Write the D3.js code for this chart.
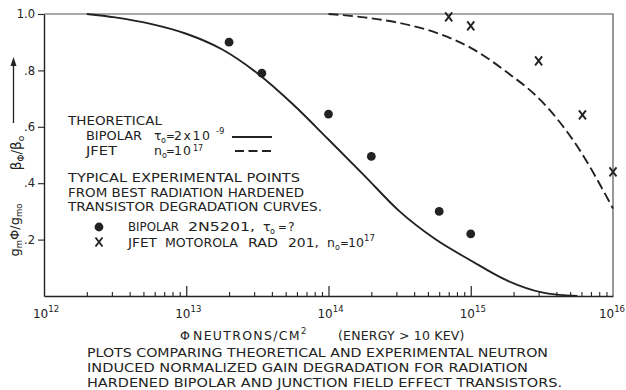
<!DOCTYPE html>
<html><head><meta charset="utf-8">
<script src="https://cdn.jsdelivr.net/npm/d3@7"></script>
<style>
body{margin:0;background:#fff}
svg{display:block}
text{font-family:"DejaVu Sans",sans-serif;fill:#222}
</style>
</head><body>
<svg id="c" width="626" height="390"></svg>
<script>
// ---- data ----
const xMajor = [1e12, 1e13, 1e14, 1e15, 1e16];
const xMajorExp = ["12", "13", "14", "15", "16"];
const yTicks = [0.2, 0.4, 0.6, 0.8, 1.0];
const yTickLabels = [".2", ".4", ".6", ".8", "1.0"];

// theoretical bipolar curve (tau0 = 2e-9)
const bipolarCurveX = [2.0e12, 3.16e12, 5.62e12, 1e13, 1.78e13, 3.16e13, 5.62e13, 1e14, 1.78e14, 3.16e14, 5.62e14, 1e15, 1.78e15, 3.16e15, 5.62e15];
const bipolarCurveY = [1.0, 0.988, 0.965, 0.93, 0.875, 0.79, 0.68, 0.555, 0.428, 0.30, 0.202, 0.126, 0.056, 0.013, 0.0];

// theoretical JFET curve (n0 = 1e17)
const jfetCurveX = [1e14, 1.78e14, 3.16e14, 5.62e14, 1e15, 1.78e15, 3.16e15, 5.62e15, 1e16];
const jfetCurveY = [1.0, 0.988, 0.968, 0.935, 0.88, 0.795, 0.69, 0.53, 0.31];

// experimental points
const bipolarPtsX = [2e13, 3.4e13, 1e14, 2e14, 6e14, 1e15];
const bipolarPtsY = [0.90, 0.79, 0.645, 0.495, 0.30, 0.22];
const jfetPtsX = [7e14, 1e15, 3e15, 6.1e15, 1e16];
const jfetPtsY = [0.99, 0.958, 0.834, 0.642, 0.44];

// ---- layout ----
const L = 44, R = 613, T = 14, B = 296;
const ink = "#222";
const svg = d3.select("#c");
const x = d3.scaleLog().domain([1e12, 1e16]).range([L, R]);
const y = d3.scaleLinear().domain([0, 1]).range([B, T]);

// frame
svg.append("path")
  .attr("d", `M${L},${T}H${R}V${B}`)
  .attr("fill", "none").attr("stroke", "#555").attr("stroke-width", 1.2);

// x axis: minor ticks (inside), major ticks (inside, longer)
const minor = [];
for (let d = 12; d < 16; d++) for (let m = 2; m <= 9; m++) minor.push(m * Math.pow(10, d));
const gx = svg.append("g").attr("transform", `translate(0,${B})`);
gx.call(d3.axisBottom(x).tickValues(minor).tickSize(-4).tickSizeOuter(0).tickFormat(""));
gx.select(".domain").attr("stroke", ink).attr("stroke-width", 1.4);
gx.selectAll(".tick line").attr("stroke", ink).attr("stroke-width", 1.1);
const gx2 = svg.append("g").attr("transform", `translate(0,${B})`);
gx2.call(d3.axisBottom(x).tickValues(xMajor.slice(1, 4)).tickSize(-10).tickSizeOuter(0).tickFormat(""));
gx2.select(".domain").remove();
gx2.selectAll(".tick line").attr("stroke", ink).attr("stroke-width", 1.2);

// x tick labels
xMajor.forEach((v, i) => {
  const last = i === xMajor.length - 1;
  const t = svg.append("text").attr("x", last ? 625 : x(v) + 2).attr("y", 318)
    .attr("text-anchor", last ? "end" : "middle").attr("font-size", 12);
  t.append("tspan").text("10");
  t.append("tspan").attr("font-size", 8.5).attr("dy", -6).text(xMajorExp[i]);
});

// y axis
const gy = svg.append("g").attr("transform", `translate(${L},0)`);
gy.call(d3.axisLeft(y).tickValues(yTicks).tickSize(6).tickPadding(3).tickSizeOuter(0)
  .tickFormat((d, i) => yTickLabels[i]));
gy.select(".domain").attr("stroke", ink).attr("stroke-width", 1.4);
gy.selectAll(".tick line").attr("stroke", ink).attr("stroke-width", 1.1);
gy.selectAll(".tick text").attr("font-size", 11.5).attr("fill", ink)
  .attr("font-family", "DejaVu Sans, sans-serif");

// curves
const line = d3.line().x(d => x(d[0])).y(d => y(d[1])).curve(d3.curveMonotoneX);
svg.append("path").datum(bipolarCurveX.map((v, i) => [v, bipolarCurveY[i]]))
  .attr("d", line).attr("fill", "none").attr("stroke", ink).attr("stroke-width", 1.9);
svg.append("path").datum(jfetCurveX.map((v, i) => [v, jfetCurveY[i]]))
  .attr("d", line).attr("fill", "none").attr("stroke", ink).attr("stroke-width", 1.9)
  .attr("stroke-dasharray", "10,4.5");

// markers
function xMark(g, cx, cy) {
  g.append("path").attr("d", `M${cx - 3.5},${cy - 4.5}L${cx + 3.5},${cy + 4.5}M${cx + 3.5},${cy - 4.5}L${cx - 3.5},${cy + 4.5}`)
    .attr("stroke", ink).attr("stroke-width", 1.9).attr("fill", "none");
}
bipolarPtsX.forEach((v, i) => {
  svg.append("circle").attr("cx", x(v)).attr("cy", y(bipolarPtsY[i])).attr("r", 4.4).attr("fill", ink);
});
jfetPtsX.forEach((v, i) => xMark(svg, x(v), y(jfetPtsY[i])));

// ---- texts ----
function txt(xp, yp, s, size, len) {
  const t = svg.append("text").attr("x", xp).attr("y", yp).attr("font-size", size || 12).text(s);
  if (len) t.attr("textLength", len).attr("lengthAdjust", "spacingAndGlyphs");
  return t;
}
// one text element built from positioned parts
function rich(parts, size) {
  const t = svg.append("text").attr("font-size", size || 12.5);
  parts.forEach(p => {
    const s = t.append("tspan").text(p.t).attr("y", p.y);
    if (p.x !== undefined) s.attr("x", p.x);
    if (p.size) s.attr("font-size", p.size);
    if (p.ls) s.attr("letter-spacing", p.ls);
  });
  return t;
}
txt(68, 125, "THEORETICAL", 12.5, 94);
txt(86, 140, "BIPOLAR", 12.5, 56);
txt(86, 155, "JFET", 12.5, 31);
// tau0 = 2x10^-9  and  n0 = 10^17 (one block)
rich([
  {t: "τ", x: 154, y: 140}, {t: "o", x: 161, y: 143, size: 8},
  {t: "=", x: 166, y: 140, size: 10.5}, {t: "2x10", x: 174, y: 140, ls: 1.6},
  {t: "-9", x: 216, y: 134, size: 8.5},
  {t: "n", x: 154, y: 155}, {t: "o", x: 162, y: 158, size: 8},
  {t: "=", x: 166, y: 155, size: 10.5}, {t: "10", x: 174, y: 155, ls: 1},
  {t: "17", x: 193, y: 151, size: 8}
]);
svg.append("line").attr("x1", 232).attr("x2", 272).attr("y1", 137).attr("y2", 137)
  .attr("stroke", ink).attr("stroke-width", 1.8);
svg.append("line").attr("x1", 235).attr("x2", 272).attr("y1", 151).attr("y2", 151)
  .attr("stroke", ink).attr("stroke-width", 1.8).attr("stroke-dasharray", "9,4.5");

txt(68, 182, "TYPICAL EXPERIMENTAL POINTS", 12.5, 232);
txt(68, 197, "FROM BEST RADIATION HARDENED", 12.5, 236);
txt(68, 211, "TRANSISTOR DEGRADATION CURVES.", 12.5, 254);

svg.append("circle").attr("cx", 99).attr("cy", 227).attr("r", 4.4).attr("fill", ink);
xMark(svg, 99, 242);
// BIPOLAR 2N5201, tau0 = ?
txt(128, 231, "BIPOLAR", 12.5, 51);
txt(188, 231, "2N5201,", 12.5, 67);
rich([
  {t: "τ", x: 263, y: 231}, {t: "o", x: 270, y: 234, size: 8},
  {t: "=", x: 278, y: 231, size: 10.5}, {t: "?", x: 288, y: 231}
]);
// JFET MOTOROLA RAD 201, n0 = 10^17
txt(128, 247, "JFET", 12.5, 29);
txt(165, 247, "MOTOROLA", 12.5, 73);
txt(248, 247, "RAD", 12.5, 30);
txt(288, 247, "201,", 12.5, 31);
rich([
  {t: "n", x: 327, y: 247}, {t: "o", x: 335, y: 250, size: 8},
  {t: "=", x: 340, y: 247, size: 10.5}, {t: "10", x: 348, y: 247},
  {t: "17", x: 364, y: 241, size: 8.5}
]);

// axis title
rich([
  {t: "Φ", x: 180, y: 340}, {t: "NEUTRONS/CM", x: 193, y: 340, ls: 1.3},
  {t: "2", y: 334, size: 8.5},
  {t: "(ENERGY > 10 KEV)", x: 338, y: 340, ls: 0.2}
]);
// caption
txt(87, 357, "PLOTS COMPARING THEORETICAL AND EXPERIMENTAL NEUTRON", 12.5, 461);
txt(87, 372, "INDUCED NORMALIZED GAIN DEGRADATION FOR RADIATION", 12.5, 441);
txt(87, 387, "HARDENED BIPOLAR AND JUNCTION FIELD EFFECT TRANSISTORS.", 12.5, 475);

// y-axis label (rotated) with arrow
svg.append("line").attr("x1", 13.5).attr("x2", 13.5).attr("y1", 123).attr("y2", 64)
  .attr("stroke", ink).attr("stroke-width", 1.3);
svg.append("path").attr("d", "M13.5,57L10.5,66L16.5,66Z").attr("fill", ink);
{
  const t = svg.append("text").attr("transform", "translate(21,153) rotate(-90)")
    .attr("text-anchor", "middle").attr("font-size", 13.5);
  t.append("tspan").text("β");
  t.append("tspan").attr("font-size", 9).attr("dy", 3).text("Φ");
  t.append("tspan").attr("dy", -3).text("/β");
  t.append("tspan").attr("font-size", 9).attr("dy", 3).text("o");
}
{
  const t = svg.append("text").attr("transform", "translate(19,230) rotate(-90)")
    .attr("text-anchor", "middle").attr("font-size", 13);
  t.append("tspan").text("g");
  t.append("tspan").attr("font-size", 8.5).attr("dy", 3).text("m");
  t.append("tspan").attr("dy", -3).text("Φ");
  t.append("tspan").text("/g");
  t.append("tspan").attr("font-size", 8.5).attr("dy", 3).text("mo");
}
</script>
</body></html>
